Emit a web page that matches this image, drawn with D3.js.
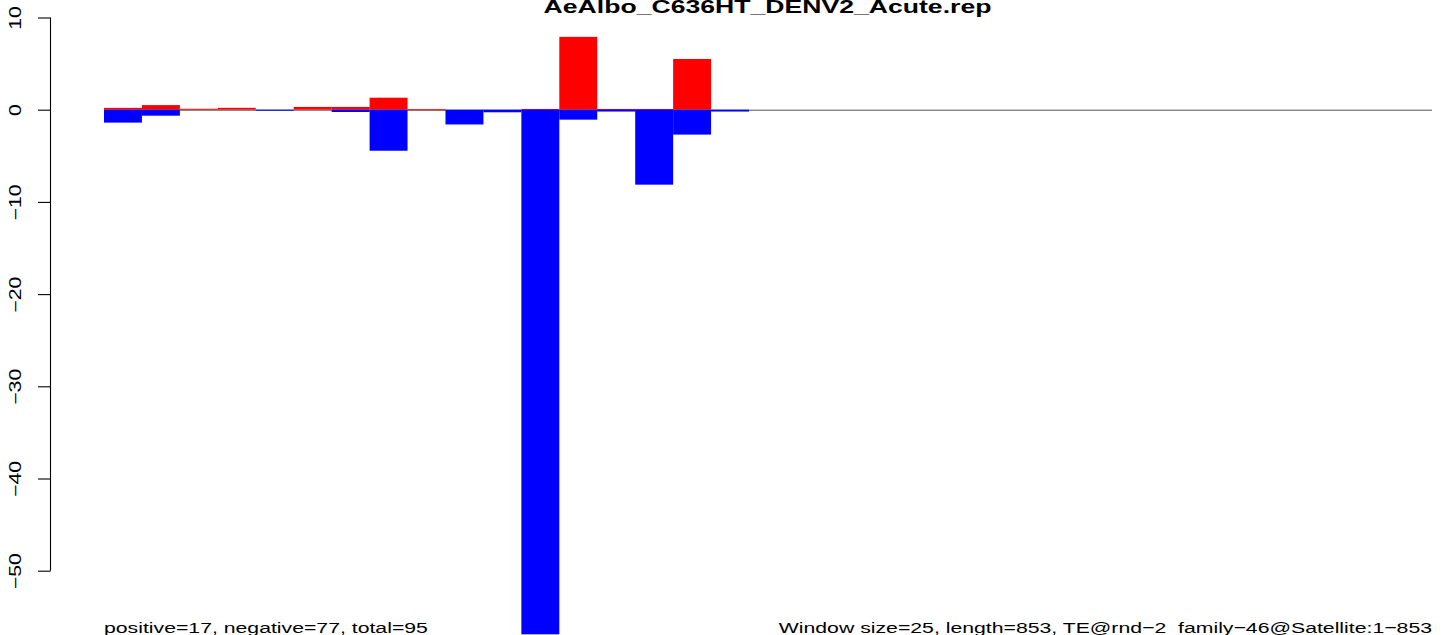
<!DOCTYPE html>
<html>
<head>
<meta charset="utf-8">
<script src="https://cdn.jsdelivr.net/npm/d3@7"></script>
<style>
  html, body { margin: 0; padding: 0; background: #fff; }
  svg { display: block; }
  text { font-family: "Liberation Sans", Arial, Helvetica, sans-serif; }
</style>
</head>
<body>
<script>
// ---- data ----
const title = "AeAlbo_C636HT_DENV2_Acute.rep";
const windows = d3.range(35); // 35 windows of 25 bp over 853 bp
const positiveValues = [0.2, 0.5, 0.1, 0.2, 0, 0.3, 0.3, 1.3, 0.05, 0, 0, 0.08, 7.9, 0.08, 0.08, 5.5, 0,
  0, 0, 0, 0, 0, 0, 0, 0, 0, 0, 0, 0, 0, 0, 0, 0, 0, 0];
const negativeValues = [-1.4, -0.65, 0, 0, -0.1, 0, -0.25, -4.45, 0, -1.6, -0.28, -56.9, -1.08, -0.2, -8.13, -2.7, -0.2,
  0, 0, 0, 0, 0, 0, 0, 0, 0, 0, 0, 0, 0, 0, 0, 0, 0, 0];
const yTicks = [-50, -40, -30, -20, -10, 0, 10];
const leftNote = "positive=17, negative=77, total=95";
const rightNote = "Window size=25, length=853, TE@rnd\u22122_family\u221246@Satellite:1\u2212853";

// ---- layout ----
const W = 1444, H = 635;
const svg = d3.select("body").append("svg").attr("width", W).attr("height", H);

const x = d3.scaleBand().domain(windows).range([104, 1432]).padding(0);
const y = d3.scaleLinear().domain([-50, 10]).range([570.7, 17.5]);

const stretch = 1.33; // glyphs in the reference are wider than Arial

// zero line
svg.append("line")
  .attr("x1", x.range()[0]).attr("x2", x.range()[1])
  .attr("y1", y(0) + 0.5).attr("y2", y(0) + 0.5)
  .attr("stroke", "#555").attr("stroke-width", 1);

// positive bars
svg.append("g").selectAll("rect").data(windows.filter(i => positiveValues[i] > 0)).join("rect")
  .attr("x", i => x(i)).attr("width", x.bandwidth())
  .attr("y", i => y(positiveValues[i]))
  .attr("height", i => Math.max(1, y(0) - y(positiveValues[i])))
  .attr("fill", "#ff0000");

// negative bars
svg.append("g").selectAll("rect").data(windows.filter(i => negativeValues[i] < 0)).join("rect")
  .attr("x", i => x(i)).attr("width", x.bandwidth())
  .attr("y", y(0))
  .attr("height", i => Math.max(1, y(negativeValues[i]) - y(0)))
  .attr("fill", "#0000ff");

// y axis
const axis = d3.axisLeft(y).tickValues(yTicks).tickSize(12.5).tickSizeOuter(0)
  .tickFormat(d => d3.format("d")(d));
const ga = svg.append("g").attr("transform", "translate(50.5,0)").call(axis);
ga.select(".domain").attr("stroke", "#000").attr("stroke-width", 1.1)
  .attr("d", `M0,${y(10)}V${y(-50)}`);
ga.selectAll(".tick line").attr("stroke", "#000").attr("stroke-width", 1.1);
ga.selectAll(".tick text")
  .attr("x", null).attr("dy", null)
  .attr("text-anchor", "middle")
  .attr("font-size", 16)
  .attr("fill", "#000")
  .attr("transform", `translate(-29.5,0) rotate(-90) scale(${stretch},1)`);

// title
svg.append("text")
  .attr("text-anchor", "middle")
  .attr("font-weight", "bold")
  .attr("font-size", 19)
  .attr("transform", `translate(767.5,13) scale(1.4,1)`)
  .text(title);

// bottom notes
svg.append("text")
  .attr("text-anchor", "start").attr("font-size", 15.5)
  .attr("transform", `translate(104,632.5) scale(1.37,1)`)
  .text(leftNote);
svg.append("text")
  .attr("text-anchor", "end").attr("font-size", 15.5)
  .attr("transform", `translate(1432,632.5) scale(1.37,1)`)
  .text(rightNote);
</script>
</body>
</html>
